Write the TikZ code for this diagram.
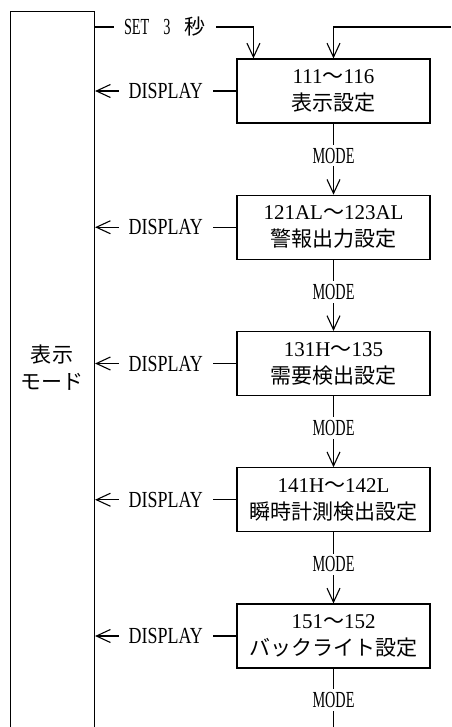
\documentclass[tikz,border=0pt]{standalone}
\usepackage{fontspec}
\setmainfont{Liberation Serif}
\newfontfamily\jp{Noto Sans CJK JP}
\newfontfamily\cond[FakeStretch=0.78]{Liberation Serif}
\newfontfamily\condm[FakeStretch=0.62]{Liberation Serif}
\usetikzlibrary{arrows.meta, calc, positioning}

\begin{document}
\begin{tikzpicture}[x=0.5pt, y=-0.5pt, line width=0.55pt,
        font=\fontsize{10.5}{13.5}\selectfont,
        arr/.style={-{Straight Barb[length=7pt,width=6.5pt]}},
        setbox/.style={draw, minimum width=96.5pt, minimum height=32pt, align=center, inner sep=0pt},
        lbl/.style={fill=white, inner xsep=5pt, inner ysep=1.5pt, font=\fontsize{11.5}{13.5}\selectfont}]
        \clip (0,0) rectangle (451,727);

        %coordinates
        \coordinate (set)  at (94,27);
        \coordinate (back) at (451,27);
        \coordinate (end)  at (333.5,727);

        %nodes
        \node[draw, minimum width=42pt, minimum height=380pt, anchor=north west] (M) at (10,11) {};
        \node[align=center] (Mtxt) at (52,368) {{\jp 表示}\\{\jp モード}};

        \node[setbox] (b1) at (333.5,91) {111{\jp ～}116\\{\jp 表示設定}};
        \node[setbox] (b2) at ($(b1) + (0,136.25)$) {121AL{\jp ～}123AL\\{\jp 警報出力設定}};
        \node[setbox] (b3) at ($(b2) + (0,136.25)$) {131H{\jp ～}135\\{\jp 需要検出設定}};
        \node[setbox] (b4) at ($(b3) + (0,136.25)$) {141H{\jp ～}142L\\{\jp 瞬時計測検出設定}};
        \node[setbox] (b5) at ($(b4) + (0,136.25)$) {151{\jp ～}152\\{\jp バックライト設定}};

        %edges
        \draw[arr] (set) -| node[lbl, pos=0.222]{{\condm SET\hspace{7pt}3\hspace{7pt}}{\jp\fontsize{10.5}{13.5}\selectfont 秒}} ($(b1.north west) + (17,0)$);
        \draw[arr] (back) -| (b1.north);

        \draw[arr] (b1.west) -- node[lbl]{\cond DISPLAY} (b1.west -| M.east);
        \draw[arr] (b2.west) -- node[lbl]{\cond DISPLAY} (b2.west -| M.east);
        \draw[arr] (b3.west) -- node[lbl]{\cond DISPLAY} (b3.west -| M.east);
        \draw[arr] (b4.west) -- node[lbl]{\cond DISPLAY} (b4.west -| M.east);
        \draw[arr] (b5.west) -- node[lbl]{\cond DISPLAY} (b5.west -| M.east);

        \draw[arr] (b1.south) -- node[lbl, pos=0.45]{\condm MODE} (b2.north);
        \draw[arr] (b2.south) -- node[lbl, pos=0.45]{\condm MODE} (b3.north);
        \draw[arr] (b3.south) -- node[lbl, pos=0.45]{\condm MODE} (b4.north);
        \draw[arr] (b4.south) -- node[lbl, pos=0.45]{\condm MODE} (b5.north);
        \draw (b5.south) -- node[lbl, pos=0.54]{\condm MODE} (end);
    \end{tikzpicture}
\end{document}
